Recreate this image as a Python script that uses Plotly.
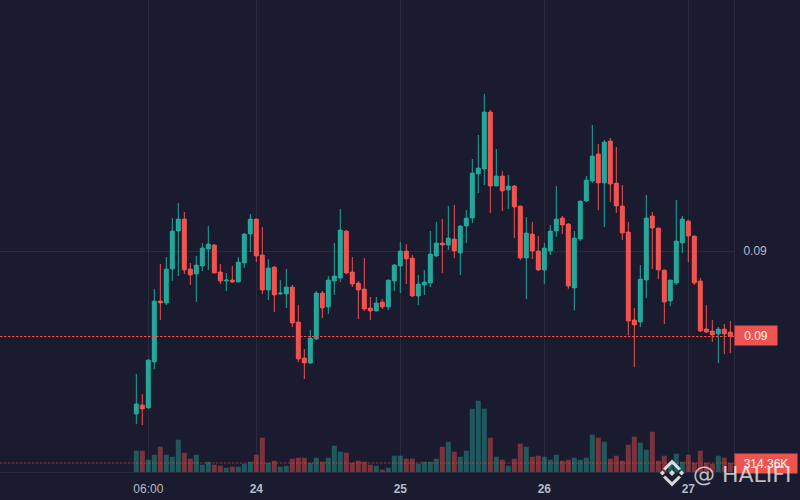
import pandas as pd
import plotly.graph_objects as go

opens = [9172,9190,9184,9276,9398,9394,9462,9538,9562,9462,9452,9468,9502,9510,9456,9438,9440,9436,9474,9532,
         9562,9490,9420,9466,9412,9412,9426,9356,9284,9274,9322,9414,9386,9438,9444,9538,9456,9434,9422,9384,
         9378,9396,9386,9438,9468,9498,9484,9408,9430,9434,9488,9514,9510,9522,9494,9548,9564,9652,9662,9776,
         9628,9648,9620,9628,9588,9484,9532,9498,9460,9498,9538,9564,9552,9424,9522,9598,9638,9692,9634,9718,
         9634,9588,9536,9360,9356,9440,9568,9544,9460,9398,9434,9514,9558,9528,9438,9342,9338,9332,9342,9336]
highs = [9252,9212,9281,9422,9472,9486,9564,9594,9576,9474,9488,9514,9548,9512,9472,9454,9468,9486,9534,9572,
         9562,9546,9482,9468,9440,9462,9430,9390,9302,9340,9418,9418,9448,9514,9582,9540,9486,9438,9484,9406,
         9406,9402,9440,9472,9516,9512,9490,9450,9460,9538,9556,9562,9588,9590,9550,9580,9682,9730,9812,9780,
         9702,9658,9650,9630,9588,9566,9556,9528,9514,9550,9628,9568,9554,9538,9598,9648,9750,9712,9720,9724,
         9706,9630,9556,9384,9470,9610,9576,9544,9460,9440,9600,9568,9560,9528,9444,9390,9360,9346,9352,9358]
lows = [9152,9150,9184,9262,9360,9390,9438,9448,9452,9430,9396,9458,9460,9454,9432,9418,9434,9436,9464,9496,
        9476,9412,9400,9376,9410,9384,9346,9276,9242,9272,9320,9364,9372,9410,9436,9452,9426,9362,9378,9360,
        9378,9382,9380,9418,9414,9432,9406,9390,9410,9426,9486,9454,9500,9484,9450,9514,9554,9614,9630,9574,
        9628,9578,9582,9524,9480,9402,9482,9458,9432,9490,9526,9532,9422,9379,9518,9596,9634,9580,9546,9596,
        9574,9520,9330,9266,9346,9404,9462,9442,9352,9388,9430,9494,9476,9430,9336,9334,9316,9274,9292,9294]
closes = [9192,9182,9280,9398,9394,9462,9538,9562,9460,9450,9470,9504,9512,9454,9438,9440,9436,9476,9532,9562,
          9488,9420,9464,9410,9414,9426,9354,9282,9274,9324,9414,9384,9440,9448,9540,9454,9432,9420,9382,9378,
          9394,9386,9440,9470,9498,9482,9408,9432,9436,9492,9514,9510,9524,9498,9548,9564,9654,9664,9776,9628,
          9648,9618,9628,9586,9484,9534,9498,9460,9504,9538,9562,9550,9428,9524,9598,9640,9688,9634,9716,9632,
          9588,9534,9358,9350,9442,9564,9544,9460,9396,9440,9518,9562,9528,9434,9338,9336,9330,9342,9332,9327]
# Volumes, in thousands
volumes_k = [745,745,430,605,885,605,535,1130,675,465,605,255,360,255,220,150,185,185,290,360,
             605,1200,325,395,185,220,465,500,500,325,500,360,500,920,710,675,325,395,360,255,
             220,80,150,570,570,465,465,290,360,360,465,885,1060,710,535,745,2215,2495,2215,1200,
             535,430,220,465,990,885,535,570,535,430,605,395,430,500,430,500,1305,1200,1060,465,
             570,395,955,1235,1025,780,1410,395,570,290,640,360,605,325,745,325,290,570,500,314.36]
day_labels = ["06:00", "<b>24</b>", "<b>25</b>", "<b>26</b>", "<b>27</b>"]
day_ticks = ["2024-03-23 06:00", "2024-03-24 00:00", "2024-03-25 00:00", "2024-03-26 00:00", "2024-03-27 00:00"]
price_label_value = 0.09498

BG = "#1a1b2e"
GRID = "#2a2c3e"
UP = "#26a69a"
DOWN = "#ef5350"
TXT = "#b8bac4"
FONT = "Liberation Sans"

times = pd.date_range("2024-03-23 04:00", periods=len(opens), freq="h")
unit = 1e-5
o = [v * unit for v in opens]
h = [v * unit for v in highs]
l = [v * unit for v in lows]
c = [v * unit for v in closes]
vols = [v * 1000 for v in volumes_k]
is_up = [b >= a for a, b in zip(opens, closes)]
vol_cols = ["rgba(38,166,154,0.45)" if u else "rgba(239,83,80,0.45)" for u in is_up]
body_cols = [UP if u else DOWN for u in is_up]

BAR_MS = 3000000  # 5/6 of the hourly spacing

fig = go.Figure()
fig.add_bar(x=times, y=vols, yaxis="y2", marker=dict(color=vol_cols, line_width=0), width=BAR_MS, showlegend=False)
fig.add_candlestick(
    x=times, open=o, high=h, low=l, close=c, yaxis="y", showlegend=False, whiskerwidth=0,
    increasing=dict(line=dict(color=UP, width=1), fillcolor=UP),
    decreasing=dict(line=dict(color=DOWN, width=1), fillcolor=DOWN),
)
# plotly's candle boxes are a little narrow: widen the bodies with bars from the same data
fig.add_bar(
    x=times, y=[abs(a - b) for a, b in zip(c, o)], base=[min(a, b) for a, b in zip(c, o)], yaxis="y",
    marker=dict(color=body_cols, line_width=0), width=BAR_MS, showlegend=False,
)

x0 = times[0] + pd.Timedelta(hours=-136.3 / 6)
x1 = times[0] + pd.Timedelta(hours=(734 - 136.3) / 6)
last_p = c[-1]
last_v = vols[-1]

logo = [
    "M0,3 L3,0 L0,-3 L-3,0 Z",
    "M-9.6,2.6 L-7,0 L-9.6,-2.6 L-12.2,0 Z",
    "M9.6,2.6 L7,0 L9.6,-2.6 L12.2,0 Z",
    "M0,9 L6.8,2.4 L9,4.6 L0,13.5 L-9,4.6 L-6.8,2.4 Z",
    "M0,-9 L6.8,-2.4 L9,-4.6 L0,-13.5 L-9,-4.6 L-6.8,-2.4 Z",
]
shapes = [
    dict(type="line", xref="paper", x0=0, x1=1, yref="y", y0=last_p, y1=last_p,
         line=dict(color=DOWN, width=1, dash="2.5px,1.5px"), layer="above"),
    dict(type="line", xref="paper", x0=0, x1=1, yref="y2", y0=last_v, y1=last_v,
         line=dict(color="rgba(239,83,80,0.5)", width=1, dash="2.5px,1.5px"), layer="above"),
]
for p in logo:
    shapes.append(dict(type="path", path=p, xref="paper", yref="paper", xsizemode="pixel", ysizemode="pixel",
                       xanchor=672 / 734, yanchor=1 - 473 / 472, fillcolor="rgba(255,255,255,0.82)",
                       line_width=0, layer="above"))

fig.update_layout(
    width=800, height=500, margin=dict(l=0, r=66, t=0, b=28),
    paper_bgcolor=BG, plot_bgcolor=BG, showlegend=False, barmode="overlay",
    font=dict(family=FONT, size=12, color=TXT),
    xaxis=dict(type="date", range=[x0, x1], tickvals=day_ticks, ticktext=day_labels, showgrid=True,
               gridcolor=GRID, gridwidth=1, rangeslider=dict(visible=False), showline=True, linecolor=GRID,
               zeroline=False, ticks="outside", ticklen=6, tickcolor="rgba(0,0,0,0)",
               tickfont=dict(size=12, color=TXT)),
    yaxis=dict(range=[0.1 - 472 * 2e-5, 0.1], side="right", tickvals=[price_label_value], ticktext=["0.09"],
               showgrid=True, gridcolor=GRID, gridwidth=1, showline=True, linecolor=GRID, zeroline=False,
               ticks="outside", ticklen=6, tickcolor="rgba(0,0,0,0)", tickfont=dict(size=12, color=TXT)),
    yaxis2=dict(range=[0, 16520000], overlaying="y", side="right", showgrid=False, showticklabels=False,
                zeroline=False, ticks=""),
    shapes=shapes,
    annotations=[
        dict(xref="paper", x=1, xanchor="left", yref="y", y=last_p, yanchor="middle", text="0.09", yshift=1,
             showarrow=False, bgcolor=DOWN, font=dict(color="white", size=12), width=40, height=17, align="center"),
        dict(xref="paper", x=1, xanchor="left", yref="y2", y=last_v, yanchor="middle", text="314.36K",
             showarrow=False, bgcolor=DOWN, font=dict(color="white", size=12), width=60, height=17, align="center"),
        dict(xref="paper", x=691 / 734, xanchor="left", yref="paper", y=1 - 474 / 472, yanchor="middle",
             text="@ HALIFI", showarrow=False, font=dict(color="rgba(255,255,255,0.72)", size=22, family="DejaVu Sans"),
             ),
    ],
)
fig.write_html("out.html", config=dict(displayModeBar=False),
               post_script="document.body.style.margin='0';document.body.style.background='#1a1b2e';")
